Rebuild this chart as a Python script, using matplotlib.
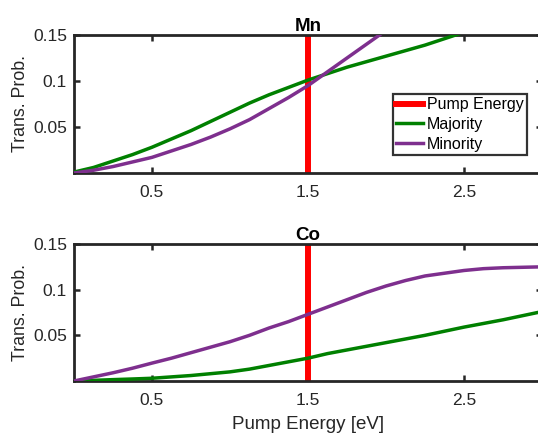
import matplotlib
matplotlib.use("Agg")
import matplotlib.pyplot as plt

plt.rcParams['font.family'] = ['Liberation Sans', 'DejaVu Sans']

energy = [0.0, 0.125, 0.25, 0.375, 0.5, 0.625, 0.75, 0.875, 1.0, 1.125, 1.25, 1.375,
          1.5, 1.625, 1.75, 1.875, 2.0, 2.125, 2.25, 2.375, 2.5, 2.625, 2.75, 2.875, 3.0]

mn_majority = [0.001, 0.006, 0.013, 0.020, 0.028, 0.037, 0.046, 0.056, 0.066, 0.076, 0.085, 0.093,
               0.101, 0.108, 0.115, 0.121, 0.127, 0.133, 0.139, 0.146, 0.153, 0.160, 0.168, 0.175, 0.183]
mn_minority = [0.0, 0.003, 0.007, 0.012, 0.017, 0.024, 0.031, 0.039, 0.048, 0.058, 0.070, 0.082,
               0.095, 0.110, 0.125, 0.140, 0.155, 0.172, 0.190, 0.210, 0.230, 0.250, 0.270, 0.290, 0.310]

co_majority = [0.0, 0.0007, 0.0015, 0.0022, 0.003, 0.0045, 0.006, 0.008, 0.010, 0.013, 0.017, 0.021,
               0.025, 0.030, 0.034, 0.038, 0.042, 0.046, 0.050, 0.0545, 0.059, 0.063, 0.067, 0.0715, 0.076]
co_minority = [0.0, 0.0045, 0.009, 0.014, 0.0196, 0.025, 0.031, 0.037, 0.043, 0.050, 0.058, 0.065,
               0.073, 0.081, 0.089, 0.097, 0.104, 0.110, 0.115, 0.118, 0.121, 0.123, 0.124, 0.1245, 0.125]

pump_energy = 1.5
panels = [("Mn", mn_majority, mn_minority), ("Co", co_majority, co_minority)]

xticks = [0.5, 1.5, 2.5]
yticks = [0.05, 0.1, 0.15]
ytick_labels = ["0.05", "0.1", "0.15"]

W, H = 538, 436
fig = plt.figure(figsize=(W / 100, H / 100), dpi=100)

ax_boxes = [(74, 35, 542, 173), (74, 244, 542, 381)]
dark = "#262626"
red = "#ff0000"
green = "#008000"
purple = "#7e2f8e"

for (name, maj, mino), (x0, y0, x1, y1) in zip(panels, ax_boxes):
    ax = fig.add_axes([x0 / W, 1 - y1 / H, (x1 - x0) / W, (y1 - y0) / H])
    ax.axvline(pump_energy, color=red, lw=4.3, label="Pump Energy", zorder=2)
    ax.plot(energy, maj, color=green, lw=2.5, label="Majority", zorder=3)
    ax.plot(energy, mino, color=purple, lw=2.5, label="Minority", zorder=3)
    ax.set_xlim(0, 3)
    ax.set_ylim(0, 0.15)
    ax.set_xticks(xticks)
    ax.set_xticklabels([str(t) for t in xticks])
    ax.set_yticks(yticks)
    ax.set_yticklabels(ytick_labels)
    ax.tick_params(direction="in", length=4, width=1.8, top=True, right=True,
                   labelsize=12.5, colors=dark)
    ax.tick_params(axis="x", pad=8.5)
    ax.tick_params(axis="y", pad=5)
    for sp in ax.spines.values():
        sp.set_linewidth(2.0)
        sp.set_color(dark)
    ax.set_ylabel("Trans. Prob.", fontsize=12.8, color=dark, labelpad=3)
    ax.set_title(name, fontsize=13.5, fontweight="bold", pad=3, color="black")
    if name == "Mn":
        leg = ax.legend(loc="lower right", bbox_to_anchor=(0.968, 0.13),
                        borderaxespad=0, fontsize=11.5, frameon=True, fancybox=False,
                        handlelength=1.7, handletextpad=0.25, labelspacing=0.3,
                        borderpad=0.2, edgecolor="black")
        leg.get_frame().set_linewidth(1.6)
    else:
        ax.set_xlabel("Pump Energy [eV]", fontsize=13.5, color=dark, labelpad=6)

fig.savefig("out.png", dpi=100)
